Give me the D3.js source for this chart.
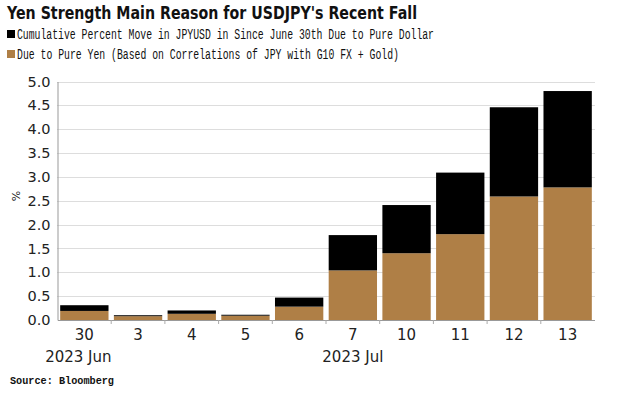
<!DOCTYPE html>
<html><head><meta charset="utf-8">
<script src="https://cdn.jsdelivr.net/npm/d3@7"></script>
<style>body{margin:0;background:#fff}svg{display:block}</style>
</head><body>
<svg id="c" width="627" height="397"></svg>
<script>
const categories = ["30","3","4","5","6","7","10","11","12","13"];
const pureYen    = [0.19,0.08,0.13,0.09,0.28,1.04,1.40,1.80,2.59,2.78];
const pureDollar = [0.12,0.02,0.07,0.02,0.19,0.74,1.01,1.29,1.87,2.02];
const yTicks = [0,0.5,1,1.5,2,2.5,3,3.5,4,4.5,5];
const monthLabels = [{at:"30", text:"2023 Jun", dx:-6},{at:"7", text:"2023 Jul", dx:0}];
const seriesNames = ["Cumulative Percent Move in JPYUSD in Since June 30th Due to Pure Dollar",
                     "Due to Pure Yen (Based on Correlations of JPY with G10 FX + Gold)"];
const colors = {yen:"#AF7F46", dollar:"#000000"};

const svg = d3.select("#c");
const L=57.5, R=594.5, T=81.5, B=320;
const x = d3.scaleBand().domain(categories).range([L,R]).paddingInner(0.1).paddingOuter(0.05);
const y = d3.scaleLinear().domain([0,5]).range([B,T]);

// title
svg.append("text").attr("x",7).attr("y",19).attr("font-family","DejaVu Sans").attr("font-weight","bold")
  .attr("font-size",17.5).attr("textLength",410).attr("lengthAdjust","spacingAndGlyphs").attr("fill","#111")
  .text("Yen Strength Main Reason for USDJPY's Recent Fall");

// legend
const legColors=[colors.dollar, colors.yen];
const legLen=[417,382];
seriesNames.forEach((s,i)=>{
  const yy=34+i*20;
  svg.append("rect").attr("x",7).attr("y",yy-4).attr("width",8).attr("height",8).attr("fill",legColors[i]);
  svg.append("text").attr("x",17).attr("y",yy+5).attr("font-family","Liberation Mono").attr("font-size",14)
    .attr("textLength",legLen[i]).attr("lengthAdjust","spacingAndGlyphs").attr("fill","#111").text(s);
});

// grid
svg.append("g").selectAll("line").data(yTicks.filter(d=>d>0)).join("line")
  .attr("x1",L).attr("x2",R).attr("y1",d=>Math.round(y(d))+0.5).attr("y2",d=>Math.round(y(d))+0.5)
  .attr("stroke","#bbb").attr("stroke-width",1).attr("stroke-dasharray","1,1");

// bars
const g=svg.append("g");
categories.forEach((c,i)=>{
  g.append("rect").attr("x",x(c)).attr("width",x.bandwidth())
    .attr("y",y(pureYen[i])).attr("height",y(0)-y(pureYen[i])).attr("fill",colors.yen);
  g.append("rect").attr("x",x(c)).attr("width",x.bandwidth())
    .attr("y",y(pureYen[i]+pureDollar[i])).attr("height",y(pureYen[i])-y(pureYen[i]+pureDollar[i])).attr("fill",colors.dollar);
});

// y axis
const ya = svg.append("g").attr("transform",`translate(${L},0)`)
  .call(d3.axisLeft(y).tickValues(yTicks).tickFormat(d3.format(".1f")).tickSize(0).tickPadding(7));
ya.select(".domain").attr("stroke","#999");
ya.selectAll("text").attr("font-family","DejaVu Sans").attr("font-size",14.5).attr("fill","#222");

// x axis
const xa = svg.append("g").attr("transform",`translate(0,${B})`)
  .call(d3.axisBottom(x).tickSize(0).tickPadding(9));
xa.select(".domain").attr("stroke","#999");
xa.selectAll("text").attr("font-family","DejaVu Sans").attr("font-size",15).attr("fill","#222");
// separators ticks between bars
svg.append("g").selectAll("line").data(categories.slice(1)).join("line")
  .attr("x1",d=>x(d)-x.step()*x.paddingInner()/2).attr("x2",d=>x(d)-x.step()*x.paddingInner()/2)
  .attr("y1",B).attr("y2",B+4).attr("stroke","#aaa");

monthLabels.forEach(m=>{
  svg.append("text").attr("x",x(m.at)+x.bandwidth()/2+m.dx).attr("y",362).attr("text-anchor","middle")
    .attr("font-family","DejaVu Sans").attr("font-size",15).attr("fill","#222").text(m.text);
});

// % label
svg.append("text").attr("transform","translate(20,196) rotate(-90)").attr("text-anchor","middle")
  .attr("font-family","DejaVu Sans").attr("font-size",11).attr("fill","#222").text("%");

// source
svg.append("text").attr("x",10).attr("y",384).attr("font-family","Liberation Mono").attr("font-weight","bold")
  .attr("font-size",11.5).attr("textLength",104).attr("lengthAdjust","spacingAndGlyphs").attr("fill","#111")
  .text("Source: Bloomberg");
</script>
</body></html>
